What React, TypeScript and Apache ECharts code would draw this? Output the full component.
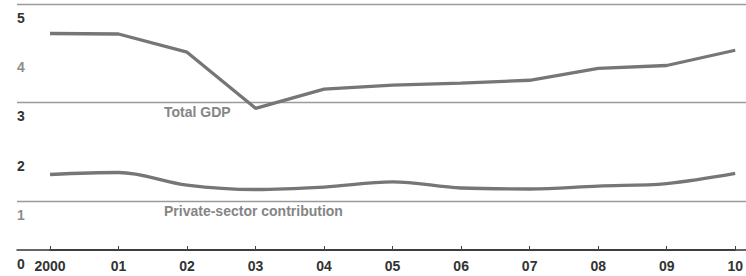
import React, { useEffect, useRef } from "react";
import * as echarts from "echarts";

const years = ["2000", "01", "02", "03", "04", "05", "06", "07", "08", "09", "10"];
const totalGdp = [4.4, 4.39, 4.02, 2.88, 3.27, 3.35, 3.39, 3.45, 3.69, 3.75, 4.06];
const privateSector = [1.535, 1.575, 1.32, 1.23, 1.28, 1.385, 1.26, 1.24, 1.3, 1.35, 1.555];
const yTicks = [0, 1, 2, 3, 4, 5];
const lightTicks = [1, 4];

export default function App() {
  const ref = useRef<HTMLDivElement>(null);
  useEffect(() => {
    if (!ref.current) return;
    const chart = echarts.init(ref.current, null, { renderer: "svg" });
    const font = "'Liberation Sans', Arial, sans-serif";
    chart.setOption({
      animation: false,
      backgroundColor: "#fff",
      grid: [
        { left: 50, right: 10, top: 4, bottom: 26 },
        { left: 17, right: 0, top: 4, bottom: 26 },
      ],
      xAxis: [
        {
          type: "category",
          gridIndex: 0,
          data: years,
          boundaryGap: false,
          axisLine: { show: true, lineStyle: { color: "#333", width: 1.5 } },
          axisTick: { show: true, inside: true, length: 4, lineStyle: { color: "#444", width: 1 } },
          axisLabel: {
            color: "#333",
            fontFamily: font,
            fontWeight: "bold",
            fontSize: 14,
            margin: 9,
          },
          splitLine: { show: false },
        },
        {
          type: "value",
          gridIndex: 1,
          min: 0,
          max: 1,
          axisLine: { show: true, lineStyle: { color: "#333", width: 1.5 } },
          axisTick: { show: false },
          axisLabel: { show: false },
          splitLine: { show: false },
        },
      ],
      yAxis: [
        {
          type: "value",
          gridIndex: 0,
          min: 0,
          max: 5,
          show: false,
          splitLine: { show: false },
        },
        {
          type: "value",
          gridIndex: 1,
          min: yTicks[0],
          max: yTicks[yTicks.length - 1],
          interval: 1,
          axisLine: { show: false },
          axisTick: { show: false },
          axisLabel: {
            inside: true,
            margin: 0,
            verticalAlign: "top",
            padding: [7, 0, 0, 0],
            fontFamily: font,
            fontWeight: "bold",
            fontSize: 14,
            color: (v: any) => (lightTicks.includes(Number(v)) ? "#8c8c8c" : "#333"),
          },
          splitLine: {
            show: true,
            lineStyle: { color: ["rgba(0,0,0,0)", "#9a9a9a"], width: 1.3 },
          },
        },
      ],
      series: [
        {
          name: "Total GDP",
          type: "line",
          xAxisIndex: 0,
          yAxisIndex: 0,
          data: totalGdp,
          showSymbol: false,
          lineStyle: { color: "#767676", width: 3.3 },
          z: 5,
        },
        {
          name: "Private-sector contribution",
          type: "line",
          xAxisIndex: 0,
          yAxisIndex: 0,
          data: privateSector,
          smooth: 0.35,
          showSymbol: false,
          lineStyle: { color: "#767676", width: 3.3 },
          z: 5,
        },
      ],
      graphic: [
        {
          type: "text",
          left: 164,
          top: 105,
          style: {
            text: "Total GDP",
            fill: "#858585",
            font: `bold 14px ${font}`,
          },
        },
        {
          type: "text",
          left: 164,
          top: 204,
          style: {
            text: "Private-sector contribution",
            fill: "#858585",
            font: `bold 14px ${font}`,
          },
        },
      ],
    });
    return () => chart.dispose();
  }, []);
  return <div ref={ref} style={{ width: 746, height: 276, position: "absolute", left: 0, top: 0 }} />;
}
